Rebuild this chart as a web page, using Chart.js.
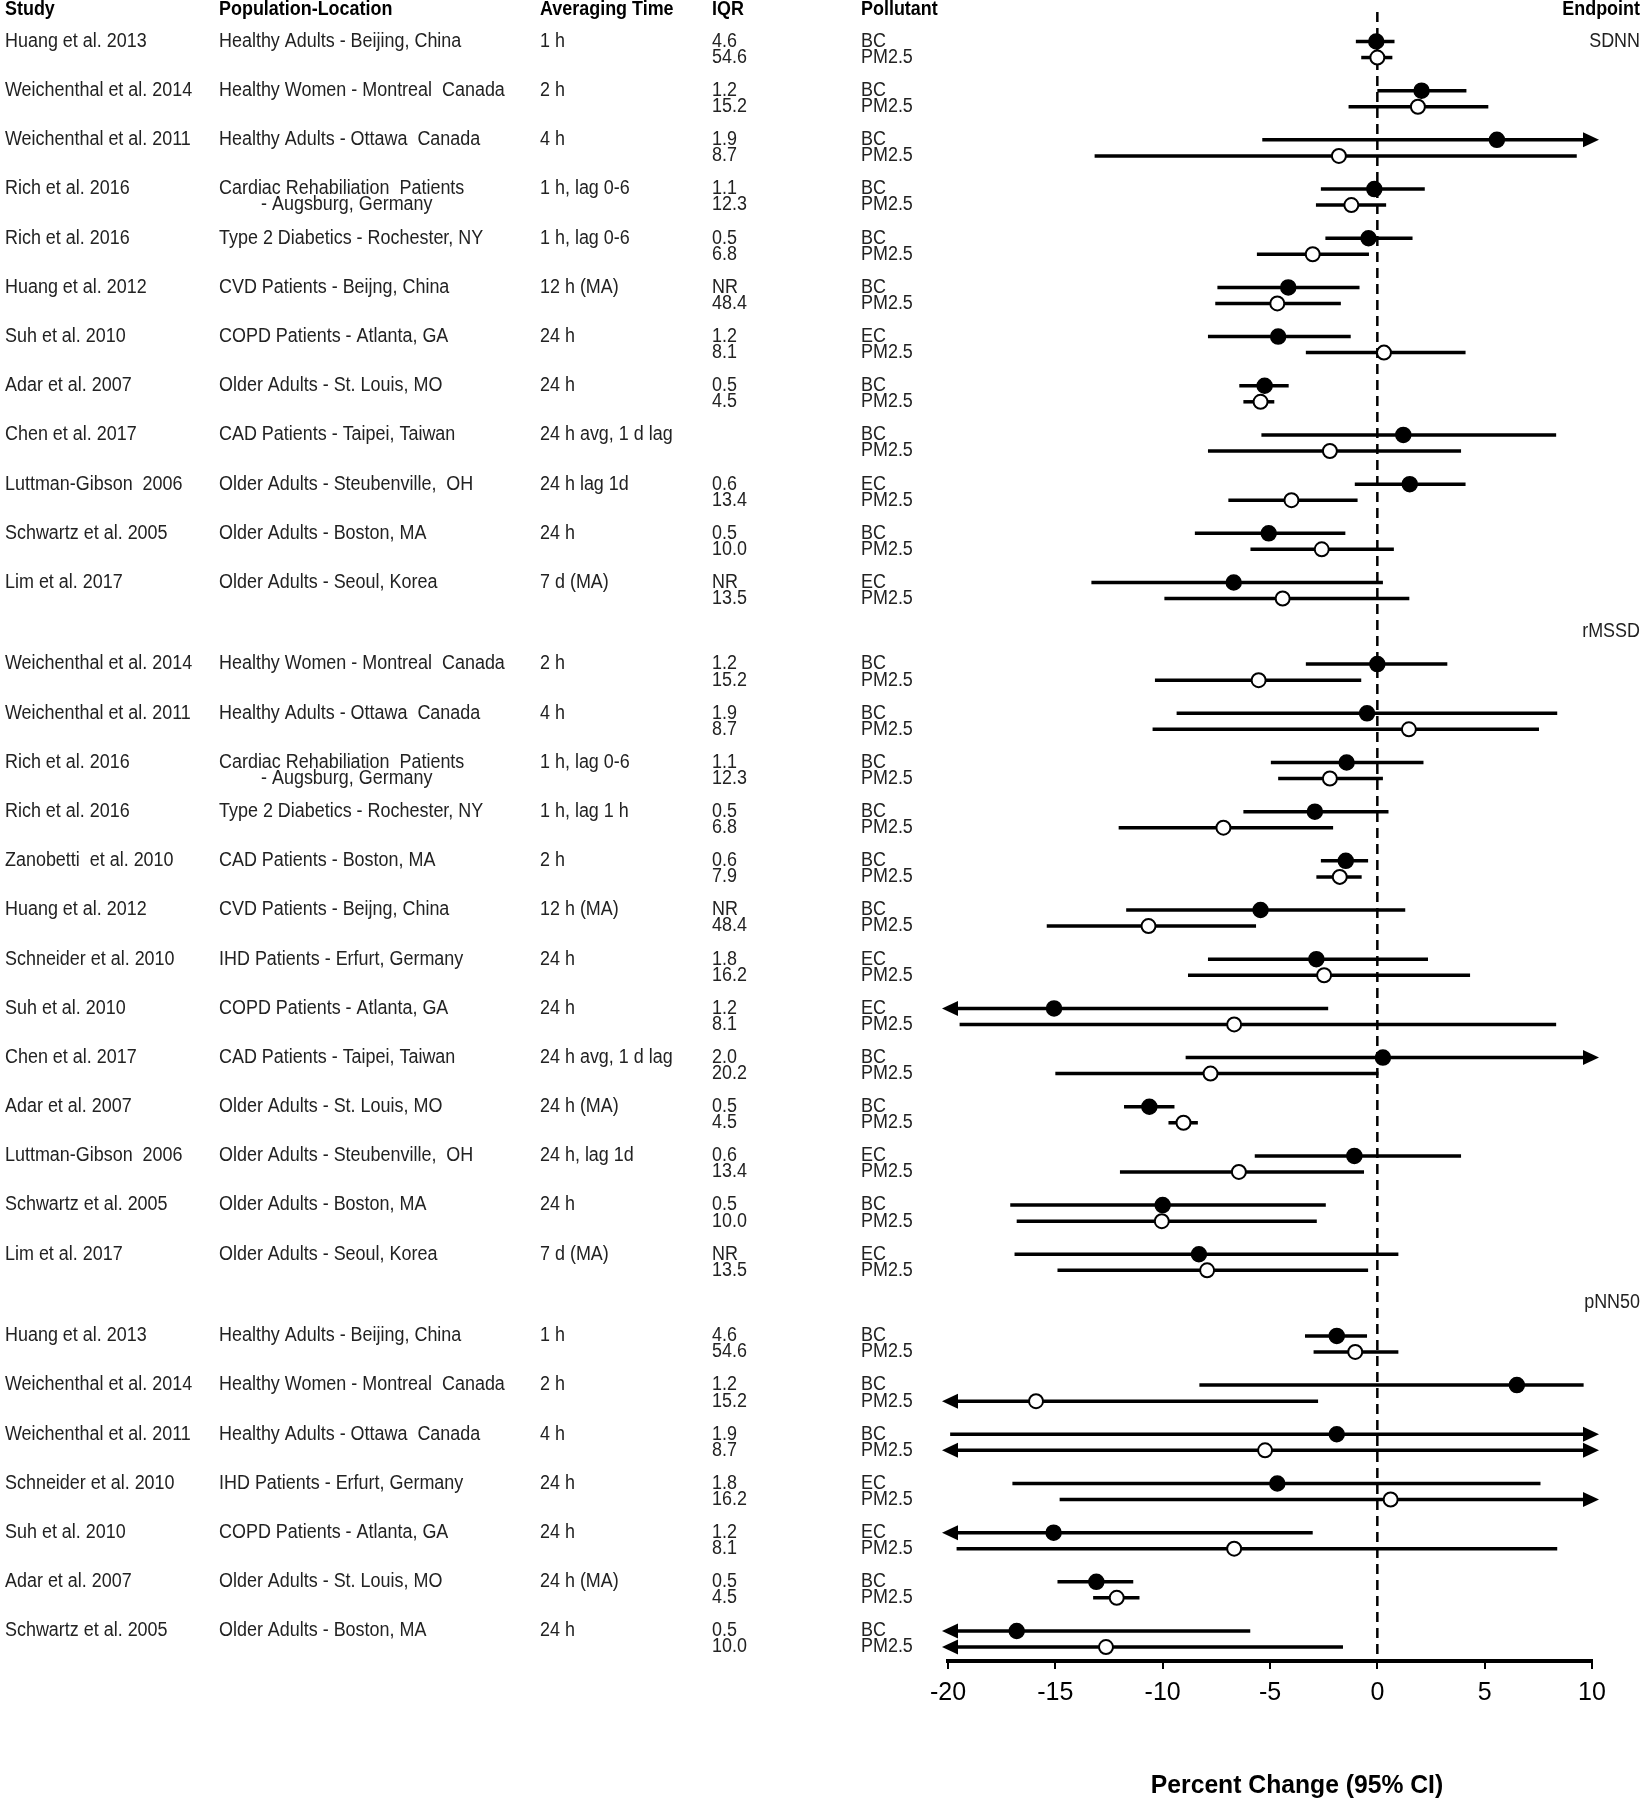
<!DOCTYPE html>
<html><head><meta charset="utf-8">
<script src="https://cdn.jsdelivr.net/npm/chart.js@4.4.1/dist/chart.umd.min.js"></script>
<style>html,body{margin:0;padding:0;background:#fff}canvas{display:block}</style>
</head><body>
<canvas id="c" width="1641" height="1800" style="width:1641px;height:1800px"></canvas>
<script>
// ---------- DATA ----------
const endpoints = ['SDNN', 'rMSSD', 'pNN50'];
const endpointCounts = [12, 13, 7];
const headers = ['Study', 'Population-Location', 'Averaging Time', 'IQR', 'Pollutant', 'Endpoint'];

const studies = [
  'Huang et al. 2013', 'Weichenthal et al. 2014', 'Weichenthal et al. 2011', 'Rich et al. 2016',
  'Rich et al. 2016', 'Huang et al. 2012', 'Suh et al. 2010', 'Adar et al. 2007',
  'Chen et al. 2017', 'Luttman-Gibson  2006', 'Schwartz et al. 2005', 'Lim et al. 2017',
  'Weichenthal et al. 2014', 'Weichenthal et al. 2011', 'Rich et al. 2016', 'Rich et al. 2016',
  'Zanobetti  et al. 2010', 'Huang et al. 2012', 'Schneider et al. 2010', 'Suh et al. 2010',
  'Chen et al. 2017', 'Adar et al. 2007', 'Luttman-Gibson  2006', 'Schwartz et al. 2005', 'Lim et al. 2017',
  'Huang et al. 2013', 'Weichenthal et al. 2014', 'Weichenthal et al. 2011', 'Schneider et al. 2010',
  'Suh et al. 2010', 'Adar et al. 2007', 'Schwartz et al. 2005'
];
const populations = [
  'Healthy Adults - Beijing, China', 'Healthy Women - Montreal  Canada', 'Healthy Adults - Ottawa  Canada',
  'Cardiac Rehabiliation  Patients\n- Augsburg, Germany', 'Type 2 Diabetics - Rochester, NY',
  'CVD Patients - Beijng, China', 'COPD Patients - Atlanta, GA', 'Older Adults - St. Louis, MO',
  'CAD Patients - Taipei, Taiwan', 'Older Adults - Steubenville,  OH', 'Older Adults - Boston, MA',
  'Older Adults - Seoul, Korea',
  'Healthy Women - Montreal  Canada', 'Healthy Adults - Ottawa  Canada',
  'Cardiac Rehabiliation  Patients\n- Augsburg, Germany', 'Type 2 Diabetics - Rochester, NY',
  'CAD Patients - Boston, MA', 'CVD Patients - Beijng, China', 'IHD Patients - Erfurt, Germany',
  'COPD Patients - Atlanta, GA', 'CAD Patients - Taipei, Taiwan', 'Older Adults - St. Louis, MO',
  'Older Adults - Steubenville,  OH', 'Older Adults - Boston, MA', 'Older Adults - Seoul, Korea',
  'Healthy Adults - Beijing, China', 'Healthy Women - Montreal  Canada', 'Healthy Adults - Ottawa  Canada',
  'IHD Patients - Erfurt, Germany', 'COPD Patients - Atlanta, GA', 'Older Adults - St. Louis, MO',
  'Older Adults - Boston, MA'
];
const avgTimes = [
  '1 h', '2 h', '4 h', '1 h, lag 0-6', '1 h, lag 0-6', '12 h (MA)', '24 h', '24 h',
  '24 h avg, 1 d lag', '24 h lag 1d', '24 h', '7 d (MA)',
  '2 h', '4 h', '1 h, lag 0-6', '1 h, lag 1 h', '2 h', '12 h (MA)', '24 h', '24 h',
  '24 h avg, 1 d lag', '24 h (MA)', '24 h, lag 1d', '24 h', '7 d (MA)',
  '1 h', '2 h', '4 h', '24 h', '24 h', '24 h (MA)', '24 h'
];
const iqrFirst = [
  '4.6', '1.2', '1.9', '1.1', '0.5', 'NR', '1.2', '0.5', '', '0.6', '0.5', 'NR',
  '1.2', '1.9', '1.1', '0.5', '0.6', 'NR', '1.8', '1.2', '2.0', '0.5', '0.6', '0.5', 'NR',
  '4.6', '1.2', '1.9', '1.8', '1.2', '0.5', '0.5'
];
const iqrPM = [
  '54.6', '15.2', '8.7', '12.3', '6.8', '48.4', '8.1', '4.5', '', '13.4', '10.0', '13.5',
  '15.2', '8.7', '12.3', '6.8', '7.9', '48.4', '16.2', '8.1', '20.2', '4.5', '13.4', '10.0', '13.5',
  '54.6', '15.2', '8.7', '16.2', '8.1', '4.5', '10.0'
];
const pollutantFirst = [
  'BC', 'BC', 'BC', 'BC', 'BC', 'BC', 'EC', 'BC', 'BC', 'EC', 'BC', 'EC',
  'BC', 'BC', 'BC', 'BC', 'BC', 'BC', 'EC', 'EC', 'BC', 'BC', 'EC', 'BC', 'EC',
  'BC', 'BC', 'BC', 'EC', 'EC', 'BC', 'BC'
];
const pollutantSecond = 'PM2.5';

// Percent change estimates and 95% CI (null = beyond axis range, drawn as arrow)
const firstEst = [
  -0.05, 2.06, 5.57, -0.14, -0.41, -4.15, -4.62, -5.25, 1.21, 1.51, -5.06, -6.69,
  0.0, -0.48, -1.43, -2.91, -1.47, -5.44, -2.84, -15.06, 0.26, -10.62, -1.07, -10.0, -8.31,
  -1.89, 6.5, -1.89, -4.66, -15.08, -13.09, -16.8
];
const firstLo = [
  -1.0, 0.0, -5.36, -2.63, -2.42, -7.45, -7.89, -6.43, -5.4, -1.05, -8.5, -13.32,
  -3.33, -9.35, -4.96, -6.24, -2.63, -11.7, -7.89, null, -8.93, -11.8, -5.71, -17.1, -16.9,
  -3.37, -8.29, -19.9, -17.0, null, -14.9, null
];
const firstHi = [
  0.8, 4.15, null, 2.21, 1.64, -0.83, -1.24, -4.13, 8.33, 4.11, -1.49, 0.26,
  3.26, 8.38, 2.15, 0.52, -0.43, 1.3, 2.36, -2.29, null, -9.45, 3.9, -2.4, 0.98,
  -0.48, 9.61, null, 7.6, -3.01, -11.37, -5.92
];
const pmEst = [
  0.0, 1.89, -1.79, -1.21, -3.01, -4.66, 0.31, -5.44, -2.21, -4.0, -2.59, -4.41,
  -5.53, 1.47, -2.21, -7.17, -1.75, -10.66, -2.48, -6.67, -7.77, -9.03, -6.45, -10.04, -7.93,
  -1.03, -15.9, -5.23, 0.62, -6.67, -12.14, -12.64
];
const pmLo = [
  -0.75, -1.34, -13.17, -2.86, -5.61, -7.55, -3.33, -6.24, -7.89, -6.94, -5.91, -9.92,
  -10.36, -10.47, -4.62, -12.05, -2.84, -15.4, -8.82, -19.46, -15.0, -9.73, -11.99, -16.8, -14.9,
  -2.97, null, null, -14.8, -19.6, -13.24, null
];
const pmHi = [
  0.7, 5.17, 9.29, 0.41, -0.39, -1.7, 4.11, -4.8, 3.9, -0.92, 0.77, 1.49,
  -0.75, 7.53, 0.26, -2.06, -0.73, -5.65, 4.32, 8.33, 0.05, -8.36, -0.62, -2.82, -0.43,
  0.98, -2.76, null, null, 8.38, -11.08, -1.6
];
const xTicks = [-20, -15, -10, -5, 0, 5, 10];
const xTitle = 'Percent Change (95% CI)';

// ---------- LAYOUT (derived from indexes) ----------
const GROUP_GAP = 0.66, PM_OFFSET = 0.326, LABEL_OFFSET = 0.67;
const groupStart = [];
endpointCounts.forEach((n, g) => {
  groupStart.push(g === 0 ? 0 : groupStart[g - 1] + endpointCounts[g - 1] + GROUP_GAP);
});
const rowPos = [];
const labelPos = [];
endpointCounts.forEach((n, g) => {
  labelPos.push(g === 0 ? groupStart[g] : groupStart[g] - LABEL_OFFSET);
  for (let k = 0; k < n; k++) rowPos.push(groupStart[g] + k);
});

const FONT = '"Liberation Sans", Arial, sans-serif';
const TEXT_SIZE = 19.5;
const TEXT_SX = 0.92;

function drawText(ctx, text, px, py, align, sx) {
  ctx.save();
  ctx.translate(px, py);
  ctx.scale(sx, 1);
  ctx.textAlign = align;
  ctx.fillText(text, 0, 0);
  ctx.restore();
}

const forestPlugin = {
  id: 'forest',
  beforeDatasetsDraw(chart) {
    const { ctx, chartArea: a, scales: { x, y } } = chart;
    ctx.save();
    const x0 = x.getPixelForValue(0);
    ctx.strokeStyle = '#000';
    ctx.lineWidth = 2.5;
    ctx.setLineDash([10, 6]);
    ctx.beginPath(); ctx.moveTo(x0, a.top); ctx.lineTo(x0, a.bottom); ctx.stroke();
    ctx.setLineDash([]);
    ctx.fillStyle = '#000';
    const arrow = (tip, py, dir) => {
      ctx.beginPath();
      ctx.moveTo(tip, py);
      ctx.lineTo(tip - dir * 16, py - 7.5);
      ctx.lineTo(tip - dir * 16, py + 7.5);
      ctx.closePath(); ctx.fill();
    };
    const ci = (lo, hi, pos) => {
      const py = y.getPixelForValue(pos);
      const L = x.getPixelForValue(lo == null ? x.min : lo);
      const R = x.getPixelForValue(hi == null ? x.max : hi);
      ctx.lineWidth = 3.5;
      ctx.beginPath(); ctx.moveTo(L, py); ctx.lineTo(R, py); ctx.stroke();
      if (hi == null) arrow(R + 7, py, 1);
      if (lo == null) arrow(L - 6, py, -1);
    };
    rowPos.forEach((p, i) => {
      ci(firstLo[i], firstHi[i], p);
      ci(pmLo[i], pmHi[i], p + PM_OFFSET);
    });
    ctx.restore();
  },
  afterDraw(chart) {
    const { ctx, scales: { y } } = chart;
    const colX = [5, 219, 540, 712, 861];
    ctx.save();
    ctx.textBaseline = 'middle';
    ctx.fillStyle = '#000';
    ctx.font = `bold ${TEXT_SIZE}px ${FONT}`;
    for (let i = 0; i < 5; i++) drawText(ctx, headers[i], colX[i], 10, 'left', TEXT_SX);
    drawText(ctx, headers[5], 1640, 10, 'right', TEXT_SX);
    ctx.font = `${TEXT_SIZE}px ${FONT}`;
    ctx.fillStyle = '#222';
    rowPos.forEach((p, i) => {
      const y1 = y.getPixelForValue(p);
      const y2 = y.getPixelForValue(p + PM_OFFSET);
      drawText(ctx, studies[i], colX[0], y1, 'left', TEXT_SX);
      const pl = populations[i].split('\n');
      drawText(ctx, pl[0], colX[1], y1, 'left', TEXT_SX);
      if (pl[1]) drawText(ctx, pl[1], colX[1] + 42, y2, 'left', TEXT_SX);
      drawText(ctx, avgTimes[i], colX[2], y1, 'left', TEXT_SX);
      drawText(ctx, iqrFirst[i], colX[3], y1, 'left', TEXT_SX);
      drawText(ctx, iqrPM[i], colX[3], y2, 'left', TEXT_SX);
      drawText(ctx, pollutantFirst[i], colX[4], y1, 'left', TEXT_SX);
      drawText(ctx, pollutantSecond, colX[4], y2, 'left', TEXT_SX);
    });
    endpoints.forEach((e, g) => drawText(ctx, e, 1640, y.getPixelForValue(labelPos[g]), 'right', TEXT_SX));
    ctx.fillStyle = '#000';
    ctx.font = `bold 26px ${FONT}`;
    drawText(ctx, xTitle, 1297, 1786, 'center', 0.95);
    ctx.restore();
  }
};

const firstData = rowPos.map((p, i) => ({ x: firstEst[i], y: p }));
const pmData = rowPos.map((p, i) => ({ x: pmEst[i], y: p + PM_OFFSET }));

new Chart(document.getElementById('c'), {
  type: 'scatter',
  data: {
    datasets: [
      { label: 'BC/EC', data: firstData, pointRadius: 7.5, pointBackgroundColor: '#000', pointBorderColor: '#000', pointBorderWidth: 1.5 },
      { label: 'PM2.5', data: pmData, pointRadius: 7, pointBackgroundColor: '#fff', pointBorderColor: '#000', pointBorderWidth: 2 }
    ]
  },
  options: {
    responsive: false,
    animation: false,
    devicePixelRatio: 1,
    layout: { padding: { left: 948, right: 49, top: 12, bottom: 0 } },
    plugins: { legend: { display: false }, tooltip: { enabled: false } },
    scales: {
      x: {
        type: 'linear', min: -20, max: 10,
        afterBuildTicks: s => { s.ticks = xTicks.map(v => ({ value: v })); },
        afterFit: s => { s.height = 139; },
        grid: { display: true, drawOnChartArea: false, drawTicks: true, tickLength: 8, color: '#000', lineWidth: 2 },
        border: { display: true, color: '#000', width: 4 },
        ticks: { color: '#000', font: { family: FONT, size: 25 }, padding: 9, maxRotation: 0, autoSkip: false }
      },
      y: { type: 'linear', reverse: true, min: -0.6, max: 32.93, display: false }
    }
  },
  plugins: [forestPlugin]
});
</script>
</body></html>
